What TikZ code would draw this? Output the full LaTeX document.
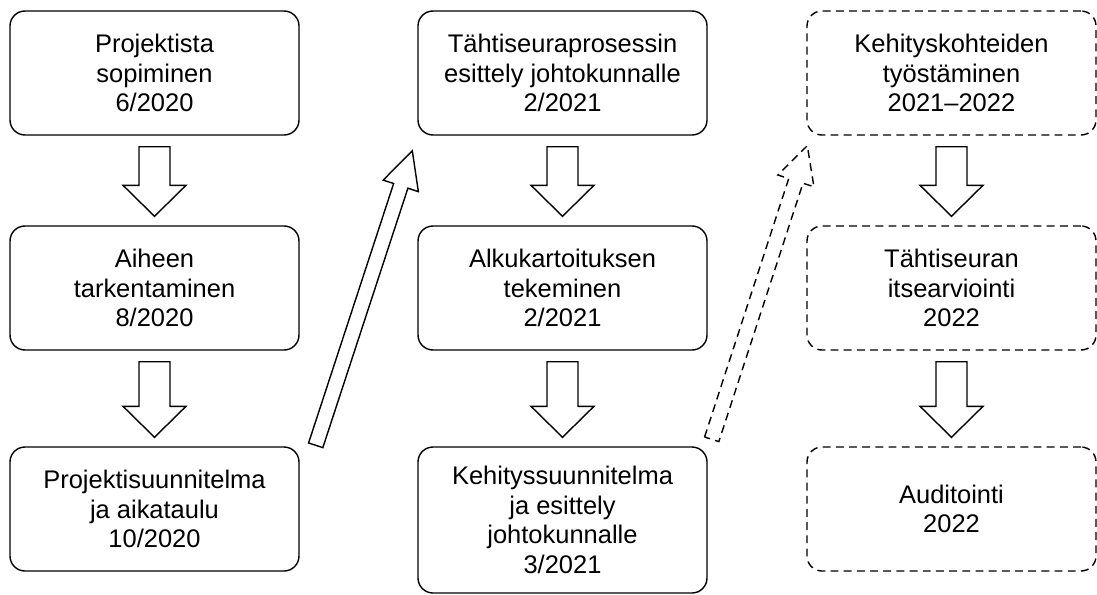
\documentclass[tikz,border=0pt]{standalone}
\usepackage{fontspec}
\setmainfont{Liberation Sans}
\usepackage{xcolor}
\usepackage{tikz}
\usetikzlibrary{calc}

% block arrow: [style]{tail}{tip}{half shaft}{half head}{head length}
\newcommand{\blockarrow}[6][]{%
  \coordinate (ba-c) at ($(#3)!#6!(#2)$);
  \draw[#1] ($(#2)!#4!90:(#3)$) -- ($(ba-c)!#4!90:(#3)$) -- ($(ba-c)!#5!90:(#3)$) -- (#3)
    -- ($(ba-c)!#5!-90:(#3)$) -- ($(ba-c)!#4!-90:(#3)$) -- ($(#2)!#4!-90:(#3)$) -- cycle;
}

\tikzset{
  phase/.style={draw, line width=0.8pt, rounded corners=0.3cm, align=center,
    minimum width=5.78cm, minimum height=2.48cm, inner sep=2pt,
    font=\fontsize{14.5pt}{16.8pt}\selectfont},
  planned/.style={phase, dash pattern=on 4.5pt off 3pt},
  blockarr/.style={draw, line width=0.8pt, fill=white},
  planarr/.style={blockarr, dash pattern=on 4.5pt off 3pt}
}

\begin{document}
\begin{tikzpicture}
\useasboundingbox (0,0) rectangle (21.94,11.88);
% first column
\node[phase] (p1) at (3.09,10.42) {Projektista\\sopiminen\\6/2020};
\node[phase] (p2) at (3.09,6.12) {Aiheen\\tarkentaminen\\8/2020};
\node[phase] (p3) at (3.09,1.70) {Projektisuunnitelma\\ja aikataulu\\10/2020};
% second column
\node[phase] (q1) at (11.25,10.42) {Tähtiseuraprosessin\\esittely johtokunnalle\\2/2021};
\node[phase] (q2) at (11.25,6.12) {Alkukartoituksen\\tekeminen\\2/2021};
\node[phase,minimum height=2.92cm] (q3) at (11.25,1.48) {Kehityssuunnitelma\\ja esittely\\johtokunnalle\\3/2021};
% third column (planned)
\node[planned] (r1) at (19.03,10.42) {Kehityskohteiden\\työstäminen\\2021–2022};
\node[planned] (r2) at (19.03,6.12) {Tähtiseuran\\itsearviointi\\2022};
\node[planned] (r3) at (19.03,1.70) {Auditointi\\2022};

\foreach \a/\b in {p1/p2, p2/p3, q1/q2, q2/q3, r1/r2, r2/r3} {
  \coordinate (t) at ($(\a.south)!0.22cm!(\b.north)$);
  \coordinate (h) at ($(\b.north)!0.18cm!(\a.south)$);
  \blockarrow[blockarr]{t}{h}{0.31cm}{0.63cm}{0.62cm}
}

% between the columns
\coordinate (t1) at ($(p3.north east)+(0.32,0.02)$);
\coordinate (h1) at ($(q1.south west)+(-0.10,-0.30)$);
\blockarrow[blockarr]{t1}{h1}{0.15cm}{0.37cm}{0.74cm}
\coordinate (t2) at ($(q3.north east)+(0.08,0.14)$);
\coordinate (h2) at ($(r1.south west)+(0.02,-0.20)$);
\blockarrow[planarr]{t2}{h2}{0.15cm}{0.38cm}{0.74cm}
\end{tikzpicture}
\end{document}
